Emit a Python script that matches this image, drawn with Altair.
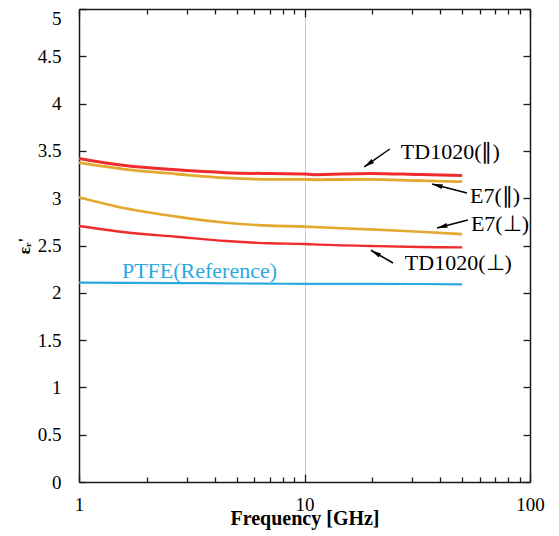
import math
import altair as alt
import pandas as pd

# ---- data ----
freq = [1, 1.6, 2.7, 4.5, 7, 10, 11, 19.5, 32.5, 50]
td_par = [3.42, 3.345, 3.30, 3.27, 3.26, 3.256, 3.248, 3.262, 3.25, 3.24]
e7_par = [3.375, 3.305, 3.256, 3.214, 3.20, 3.20, 3.195, 3.20, 3.185, 3.175]
e7_perp = [3.01, 2.893, 2.805, 2.74, 2.71, 2.70, 2.695, 2.67, 2.646, 2.62]
td_perp = [2.706, 2.64, 2.593, 2.548, 2.523, 2.516, 2.512, 2.495, 2.484, 2.48]
ptfe = [2.107, 2.105, 2.103, 2.10, 2.097, 2.095, 2.095, 2.094, 2.093, 2.09]

series_names = ["PTFE(Reference)", "TD1020(⊥)", "E7(⊥)", "E7(∥)", "TD1020(∥)"]
series_vals = [ptfe, td_perp, e7_perp, e7_par, td_par]
series_colors = ["#29a9e1", "#ef2b2d", "#e3a92e", "#e3a92e", "#ef2b2d"]
series_widths = [2.2, 3, 2.5, 2.5, 3]

x_ticks = [1, 2, 3, 4, 5, 6, 7, 8, 9, 10, 20, 30, 40, 50, 60, 70, 80, 90, 100]
y_ticks = [0, 0.5, 1, 1.5, 2, 2.5, 3, 3.5, 4, 4.5, 5]

ann_labels = ["TD1020(∥)", "E7(∥)", "E7(⊥)", "TD1020(⊥)"]
ann_text_f = [26.2, 53.1, 53.6, 27.3]
ann_text_v = [3.49, 3.02, 2.73, 2.315]
arrow_from_f = [23.9, 52.5, 53.0, 24.7]
arrow_from_v = [3.52, 3.055, 2.77, 2.315]
arrow_to_f = [18.4, 36.8, 38.7, 19.7]
arrow_to_v = [3.33, 3.15, 2.685, 2.45]

ref_label = ["PTFE(Reference)"]
ref_f = [1.55]
ref_v = [2.23]

# ---- layout ----
W, H = 451, 473
FONT = "Liberation Serif"

rows = []
for name, vals in zip(series_names, series_vals):
    for f, v in zip(freq, vals):
        rows.append({"series": name, "freq": f, "eps": v})
df = pd.DataFrame(rows)

# arrow head angle from direction in pixel space
px_per_dec = W / 2.0
px_per_unit = H / 5.0
angles = []
for fs, vs, ft, vt in zip(arrow_from_f, arrow_from_v, arrow_to_f, arrow_to_v):
    dx = (math.log10(ft) - math.log10(fs)) * px_per_dec
    dy = -(vt - vs) * px_per_unit
    ang = math.degrees(math.atan2(dx, -dy)) % 360
    angles.append(ang)

ann = pd.DataFrame({
    "label": ann_labels, "tf": ann_text_f, "tv": ann_text_v,
    "f0": arrow_from_f, "v0": arrow_from_v, "f1": arrow_to_f, "v1": arrow_to_v,
    "angle": angles,
})
ref = pd.DataFrame({"label": ref_label, "f": ref_f, "v": ref_v})

xscale = alt.Scale(type="log", domain=[1, 100], nice=False)
yscale = alt.Scale(domain=[0, 5], nice=False, zero=False)

major_test = "datum.value == 1 || datum.value == 10 || datum.value == 100"

x_axis = alt.Axis(
    values=x_ticks,
    labelExpr="(datum.value == 1 || datum.value == 10 || datum.value == 100) ? datum.label : ''",
    tickSize={"condition": {"test": major_test, "value": -8}, "value": -5},
    grid=True,
    gridColor="#c8c8c8",
    gridWidth=1,
    gridOpacity={"condition": {"test": "datum.value == 10", "value": 1}, "value": 0},
    title="Frequency [GHz]",
    titleFont=FONT, titleFontSize=20, titleFontWeight="bold", titleColor="black",
    titlePadding=-9,
    labelPadding=21,
    labelFlush=False,
    labelOverlap=False,
)
y_axis = alt.Axis(
    values=y_ticks,
    format="~g",
    tickSize={"expr": "-7"},
    grid=False,
    labelBaseline={"condition": {"test": "datum.value == 5", "value": "top"}, "value": "middle"},
    title="εᵣ'",
    titleFont=FONT, titleFontSize=17, titleFontWeight="bold", titleColor="black",
    titlePadding=4,
    labelPadding=25,
    labelFlush=False,
    labelOverlap=False,
)

lines = alt.Chart(df).mark_line(interpolate="monotone").encode(
    x=alt.X("freq:Q", scale=xscale, axis=x_axis),
    y=alt.Y("eps:Q", scale=yscale, axis=y_axis),
    color=alt.Color("series:N", scale=alt.Scale(domain=series_names, range=series_colors), legend=None),
    strokeWidth=alt.StrokeWidth("series:N", scale=alt.Scale(domain=series_names, range=series_widths), legend=None),
    detail="series:N",
    order=alt.value(0),
)

mirror = alt.Chart(df).mark_point(opacity=0).encode(
    x=alt.X("freq:Q", scale=xscale, axis=alt.Axis(
        orient="top", values=x_ticks, labels=False, title=None, grid=False,
        tickSize={"condition": {"test": major_test, "value": -8}, "value": -5})),
    y=alt.Y("eps:Q", scale=yscale, axis=alt.Axis(
        orient="right", values=y_ticks, labels=False, title=None, grid=False,
        tickSize={"expr": "-7"})),
)

shafts = alt.Chart(ann).mark_rule(color="black", strokeWidth=1.5).encode(
    x=alt.X("f0:Q", scale=xscale, axis=None),
    y=alt.Y("v0:Q", scale=yscale, axis=None),
    x2="f1:Q", y2="v1:Q",
)
heads = alt.Chart(ann).mark_point(
    shape="M0,0L-0.5,2.2L0.5,2.2Z", filled=True, color="black", opacity=1, size=90, strokeWidth=0
).encode(
    x=alt.X("f1:Q", scale=xscale, axis=None),
    y=alt.Y("v1:Q", scale=yscale, axis=None),
    angle=alt.Angle("angle:Q", scale=None),
)
texts = alt.Chart(ann).mark_text(
    font=FONT, fontSize=22, align="left", baseline="middle", color="black", dx=2
).encode(
    x=alt.X("tf:Q", scale=xscale, axis=None),
    y=alt.Y("tv:Q", scale=yscale, axis=None),
    text="label:N",
)
ref_text = alt.Chart(ref).mark_text(
    font=FONT, fontSize=22, align="left", baseline="middle", color="#29a9e1"
).encode(
    x=alt.X("f:Q", scale=xscale, axis=None),
    y=alt.Y("v:Q", scale=yscale, axis=None),
    text="label:N",
)

chart = alt.layer(mirror, lines, shafts, heads, texts, ref_text).resolve_axis(
    x="independent", y="independent"
).properties(
    width=W, height=H,
    autosize=alt.AutoSizeParams(type="none"),
    padding={"left": 71, "top": 1, "right": 21, "bottom": 52},
    background="white",
).configure_view(stroke=None).configure_axis(
    labelFont=FONT, labelFontSize=19, labelColor="black",
    domainColor="#1a1a1a", domainWidth=1.5,
    tickColor="#1a1a1a", tickWidth=1.3,
)

chart.save("out.html", embed_options={"renderer": "svg", "actions": False})
